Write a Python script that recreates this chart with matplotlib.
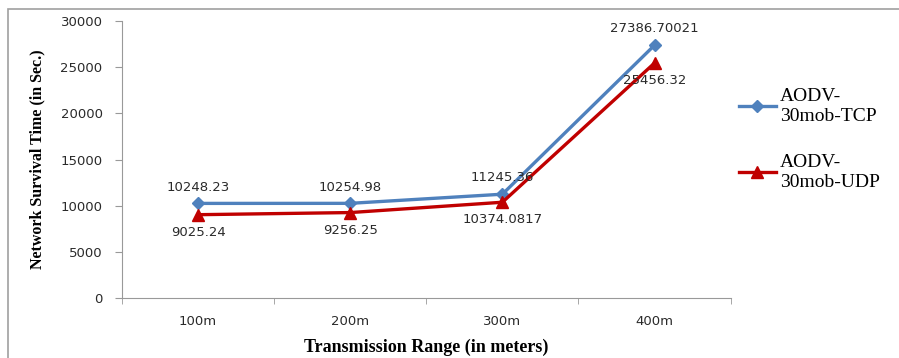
import matplotlib.pyplot as plt
import numpy as np
from matplotlib.patches import Rectangle

ranges = ["100m", "200m", "300m", "400m"]
tcp = [10248.23, 10254.98, 11245.36, 27386.70021]
udp = [9025.24, 9256.25, 10374.0817, 25456.32]
tcp_labels = ["10248.23", "10254.98", "11245.36", "27386.70021"]
udp_labels = ["9025.24", "9256.25", "10374.0817", "25456.32"]
series_names = ["AODV-\n30mob-TCP", "AODV-\n30mob-UDP"]

fig = plt.figure(figsize=(8.99, 3.58), dpi=100)
ax = fig.add_axes([0.1357, 0.1676, 0.677, 0.7735])

x = np.arange(len(ranges))
ax.plot(x, tcp, color="#4F81BD", lw=2.4, marker="D", ms=6, label=series_names[0])
ax.plot(x, udp, color="#C00000", lw=2.4, marker="^", ms=8, label=series_names[1])

# value labels: TCP above the points, UDP below
for xi, v, s in zip(x, tcp, tcp_labels):
    ax.annotate(s, (xi, v), xytext=(0, 7), textcoords="offset points",
                ha="center", va="bottom", fontsize=9.5, color="#2a2a2a")
for xi, v, s in zip(x, udp, udp_labels):
    ax.annotate(s, (xi, v), xytext=(0, -8), textcoords="offset points",
                ha="center", va="top", fontsize=9.5, color="#2a2a2a")

ax.set_xlim(-0.5, len(ranges) - 0.5)
ax.set_ylim(0, 30000)
ax.set_yticks(np.arange(0, 30001, 5000))
ax.set_xticks(x)
ax.set_xticklabels(ranges)
ax.set_xticks(np.arange(-0.5, len(ranges), 1), minor=True)
ax.tick_params(axis="x", which="major", length=0, pad=12, labelsize=9.5, labelcolor="#2a2a2a")
ax.tick_params(axis="x", which="minor", length=4, color="#999999")
ax.tick_params(axis="y", length=5, pad=9, color="#999999", labelsize=9.5, labelcolor="#2a2a2a")

for side in ["top", "right"]:
    ax.spines[side].set_visible(False)
for side in ["left", "bottom"]:
    ax.spines[side].set_color("#999999")

ax.set_ylabel("Network Survival Time (in Sec.)", family="Liberation Serif",
              fontsize=11.5, fontweight="bold")
ax.yaxis.set_label_coords(-0.126, 0.5)
ax.set_xlabel("Transmission Range (in meters)", family="Liberation Serif",
              fontsize=13, fontweight="bold")
ax.xaxis.set_label_coords(0.5, -0.148)

ax.legend(loc="upper left", bbox_to_anchor=(0.985, 0.82), frameon=False,
          prop={"family": "Liberation Serif", "size": 14},
          handlelength=1.9, handletextpad=0.2, labelspacing=1.5)

# outer frame (left and top edges visible)
fig.patches.append(Rectangle((0.009, -0.2), 1.2, 1.175, transform=fig.transFigure,
                             fill=False, edgecolor="#A0A0A0", lw=1.2))

fig.savefig("out.png", dpi=100)
